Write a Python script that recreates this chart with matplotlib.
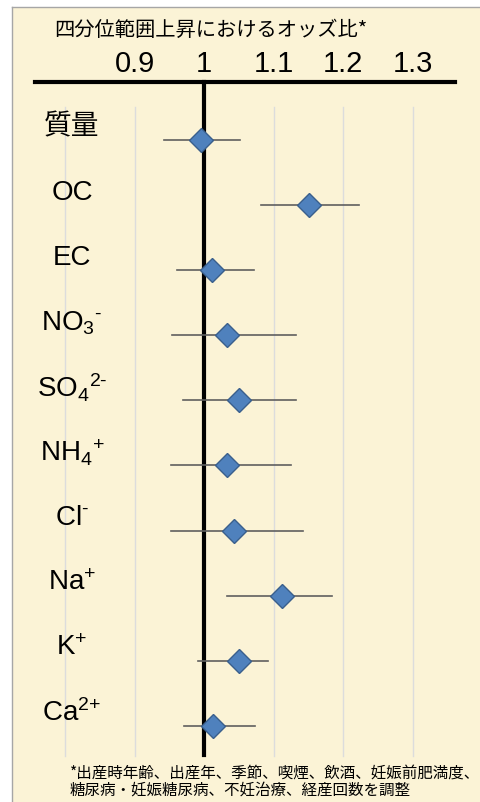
import matplotlib
matplotlib.use("Agg")
import matplotlib.pyplot as plt

plt.rcParams["font.family"] = ["Liberation Sans", "Noto Sans CJK JP"]
plt.rcParams["mathtext.fontset"] = "custom"
plt.rcParams["mathtext.rm"] = "Liberation Sans"
plt.rcParams["mathtext.it"] = "Liberation Sans"
plt.rcParams["mathtext.bf"] = "Liberation Sans"

# Odds ratios per interquartile-range increase, with 95% CI
labels = ["質量", "OC", "EC", r"NO$_3$$^{\text{-}}$", r"SO$_4$$^{\text{2-}}$",
          r"NH$_4$$^{\text{+}}$", r"Cl$^{\text{-}}$", r"Na$^{\text{+}}$",
          r"K$^{\text{+}}$", r"Ca$^{\text{2+}}$"]
odds = [0.996, 1.151, 1.012, 1.033, 1.050, 1.033, 1.043, 1.112, 1.050, 1.013]
lower = [0.942, 1.082, 0.961, 0.954, 0.970, 0.953, 0.953, 1.033, 0.991, 0.971]
upper = [1.052, 1.223, 1.072, 1.132, 1.132, 1.125, 1.143, 1.184, 1.092, 1.073]
tick_values = [0.9, 1.0, 1.1, 1.2, 1.3]
tick_labels = ["0.9", "1", "1.1", "1.2", "1.3"]
grid_values = [0.8, 0.9, 1.1, 1.2, 1.3]
title = "四分位範囲上昇におけるオッズ比*"
footnote = ["*出産時年齢、出産年、季節、喫煙、飲酒、妊娠前肥満度、",
            "糖尿病・妊娠糖尿病、不妊治療、経産回数を調整"]

fig = plt.figure(figsize=(4.8, 8.02), dpi=100)
fig.patch.set_facecolor("white")
ax = fig.add_axes([12 / 480, 0, 468 / 480, 795 / 802])
ax.set_facecolor("#fbf3d6")
ax.set_xlim(0.7237, 1.397)
ax.set_ylim(10.17, -2.043)
ax.set_xticks([])
ax.set_yticks([])
for side in ["right", "bottom"]:
    ax.spines[side].set_visible(False)
for side in ["left", "top"]:
    ax.spines[side].set_color("#a6a6a6")
    ax.spines[side].set_linewidth(1)

# light vertical gridlines
for g in grid_values:
    ax.plot([g, g], [-0.51, 9.47], color="#dcdcdc", lw=1, zorder=1)

# reference line at OR = 1 and top axis line
ax.plot([1, 1], [-0.89, 9.45], color="black", lw=3, zorder=2)
ax.plot([0.757, 1.361], [-0.89, -0.89], color="black", lw=3, zorder=2)

rows = list(range(len(labels)))

# confidence intervals and point estimates
for i in rows:
    ax.plot([lower[i], upper[i]], [i, i], color="#5f5f5f", lw=1.2, zorder=3)
ax.plot(odds, rows, linestyle="none", marker="D", markersize=12,
        markerfacecolor="#4f81bd", markeredgecolor="#3a5f8c", markeredgewidth=1,
        zorder=4)

# category labels
for i in rows:
    ax.text(0.81, i - 0.19, labels[i], fontsize=20, ha="center", va="center")

# tick labels above the axis line
for v, t in zip(tick_values, tick_labels):
    ax.text(v, -1.17, t, fontsize=21, ha="center", va="center")

ax.text(1.009, -1.69, title, fontsize=14.6, ha="center", va="center",
        family=["Noto Sans CJK JP", "DejaVu Sans"])

ax.text(0.807, 9.72, footnote[0], fontsize=11.2, ha="left", va="center",
        family=["Noto Sans CJK JP", "DejaVu Sans"])
ax.text(0.807, 9.98, footnote[1], fontsize=11.2, ha="left", va="center",
        family=["Noto Sans CJK JP", "DejaVu Sans"])

plt.savefig("out.png", dpi=100)
